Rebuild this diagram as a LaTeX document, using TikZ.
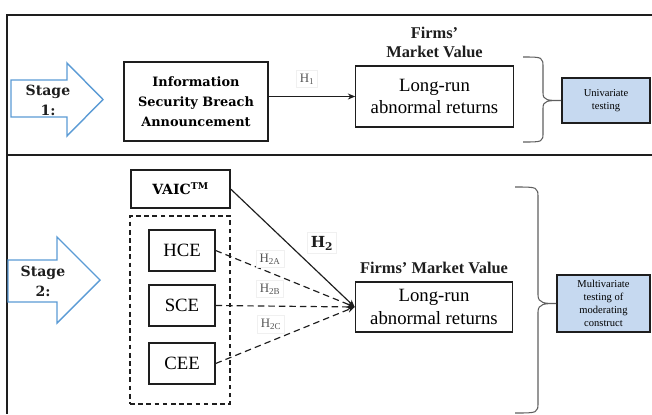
\documentclass[tikz,border=0pt]{standalone}
\usepackage{fontspec}
\setmainfont{Liberation Serif}
\newfontfamily\slabfont{DejaVu Serif}
\usetikzlibrary{arrows.meta, positioning, calc}
\definecolor{stageBlue}{RGB}{91,155,213}
\definecolor{testFill}{RGB}{198,217,240}
\definecolor{ink}{RGB}{30,30,30}
\definecolor{braceGray}{RGB}{95,95,95}
\definecolor{hypText}{RGB}{85,85,85}

\begin{document}
\begin{tikzpicture}[x=0.03cm, y=-0.03cm,
  panelline/.style={line width=1.8pt, draw=ink},
  stagearrow/.style={draw=stageBlue, line width=1.2pt, fill=white, line join=miter},
  stagelbl/.style={font=\slabfont\bfseries\fontsize{12}{17}\selectfont, align=center, text=ink},
  varbox/.style={draw=ink, line width=1.1pt, align=center, inner sep=0pt},
  retbox/.style={draw=ink, line width=1.1pt, align=center, font=\fontsize{16}{19}\selectfont, minimum width=4.72cm},
  valuelbl/.style={font=\bfseries\fontsize{14}{16.5}\selectfont, align=center, text=ink},
  testbox/.style={draw=ink, line width=1.4pt, fill=testFill, align=center, font=\fontsize{9}{11}\selectfont},
  hyp/.style={fill=white, draw=black!6, font=\fontsize{11}{13}\selectfont, text=hypText, inner sep=3pt},
  arr/.style={-{Stealth[length=2.2mm, width=1.8mm]}, line width=1pt, draw=ink},
  darr/.style={arr, dash pattern=on 5.5pt off 3.5pt},
  brc/.style={draw=braceGray, line width=0.9pt}
]
\useasboundingbox (0,0) rectangle (652,414);

% panels
\draw[panelline] (652,15) -- (7,15) -- (7,414);
\draw[panelline, line width=2.4pt] (7,155) -- (652,155);

% stage 1
\draw[stagearrow] (11,80) -- (67,80) -- (67,63) -- (103,99.5) -- (67,136) -- (67,117) -- (11,117) -- cycle;
\node[stagelbl] (s1) at (48,100) {Stage\\1:};

\node[varbox, font=\slabfont\bfseries\fontsize{11}{17}\selectfont, minimum width=4.32cm, minimum height=2.37cm] (info) at (196,101.5) {Information\\Security Breach\\Announcement};
\node[retbox, minimum height=1.83cm] (lr1) at (434.5,96.5) {Long-run\\abnormal returns};
\node[valuelbl, above=1mm of lr1] (fmv1) {Firms’\\Market Value};
\node[testbox, minimum width=2.64cm, minimum height=1.35cm] (test1) at (606,100.5) {Univariate\\testing};

\draw[arr] (info.east |- lr1.west) -- (lr1.west);
\node[hyp] (h1) at (307,79) {H\textsubscript{1}};

\draw[brc] (523,57) .. controls (543,57) .. (543,68) -- (543,93)
  .. controls (543,100.5) and (548,100.5) .. (test1.west)
  .. controls (548,100.5) and (543,100.5) .. (543,108) -- (543,132)
  .. controls (543,142) .. (523,142);

% stage 2
\draw[stagearrow] (8,260) -- (57,260) -- (57,237) -- (100,280) -- (57,323) -- (57,302) -- (8,302) -- cycle;
\node[stagelbl] (s2) at (43,281) {Stage\\2:};

\node[varbox, font=\slabfont\bfseries\fontsize{12}{14}\selectfont, minimum width=2.97cm, minimum height=1.14cm] (vaic) at (180.5,189) {VAIC\textsuperscript{TM}};
\node[draw=ink, dash pattern=on 4pt off 3pt, line width=0.9pt, minimum width=3cm, minimum height=5.64cm] (grp) at (180,310) {};
\foreach \nm/\y in {HCE/250.5, SCE/305.5, CEE/363.5}{
  \node[varbox, font=\fontsize{16}{19}\selectfont, minimum width=1.98cm, minimum height=1.23cm] (\nm) at (182,\y) {\nm};
}

\node[retbox, minimum height=1.5cm] (lr2) at (434,307) {Long-run\\abnormal returns};
\node[valuelbl, above=1mm of lr2] (fmv2) {Firms’ Market Value};
\node[testbox, minimum width=2.79cm, minimum height=1.71cm] (test2) at (603.5,303.5) {Multivariate\\testing of\\moderating\\construct};

\draw[arr] (vaic.east) -- (lr2.west);
\foreach \nm in {HCE, SCE, CEE}{
  \draw[darr] (\nm.east) -- (lr2.west);
}
\node[hyp, font=\slabfont\bfseries\fontsize{13}{15}\selectfont, text=ink] (h2) at (322,243) {H\textsubscript{2}};
\node[hyp] (h2a) at (270,259) {H\textsubscript{2A}};
\node[hyp] (h2b) at (270,289) {H\textsubscript{2B}};
\node[hyp] (h2c) at (271,324) {H\textsubscript{2C}};

\draw[brc] (515,187) .. controls (538,187) .. (538,198) -- (538,295)
  .. controls (538,303.5) and (545,303.5) .. (test2.west)
  .. controls (545,303.5) and (538,303.5) .. (538,312) -- (538,402)
  .. controls (538,413) .. (515,413);
\end{tikzpicture}
\end{document}
